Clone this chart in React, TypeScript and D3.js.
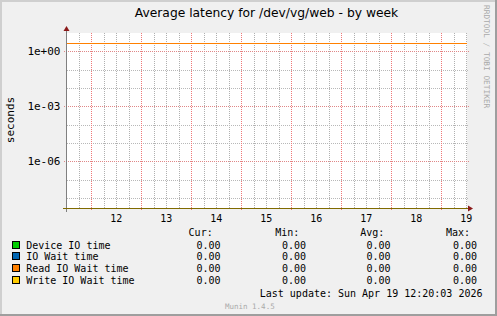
import React from "react";
import * as d3 from "d3";

const W = 497;
const H = 316;

const title = "Average latency for /dev/vg/web - by week";
const yLabel = "seconds";
const startTime = new Date(2026, 3, 11, 12, 20, 3);
const endTime = new Date(2026, 3, 19, 12, 20, 3);
const sampleTimes = [
  new Date(2026, 3, 11, 12, 20, 3),
  new Date(2026, 3, 13, 12, 0, 0),
  new Date(2026, 3, 15, 12, 0, 0),
  new Date(2026, 3, 17, 12, 0, 0),
  new Date(2026, 3, 19, 12, 20, 3),
];
const seriesNames = ["Device IO time", "IO Wait time", "Read IO Wait time", "Write IO Wait time"];
const seriesColors = ["#00CC00", "#0066B3", "#FF8000", "#FFCC00"];
const deviceValues = [0, 0, 0, 0, 0];
const ioWaitValues = [0, 0, 0, 0, 0];
const readValues = [2.9, 2.9, 2.9, 2.9, 2.9];
const writeValues = [0, 0, 0, 0, 0];
const legendHeaders = ["Cur:", "Min:", "Avg:", "Max:"];
const legendStats = [
  ["0.00", "0.00", "0.00", "0.00"],
  ["0.00", "0.00", "0.00", "0.00"],
  ["0.00", "0.00", "0.00", "0.00"],
  ["0.00", "0.00", "0.00", "0.00"],
];
const majorYTicks = [1, 1e-3, 1e-6];
const majorYLabels = ["1e+00", "1e-03", "1e-06"];
const minorYTicks = [1e-1, 1e-2, 1e-4, 1e-5, 1e-7, 1e-8];
const lastUpdate = "Last update: Sun Apr 19 12:20:03 2026";

const MONO = "'DejaVu Sans Mono', monospace";
const SANS = "'DejaVu Sans', sans-serif";

export default function App() {
  const x0 = 67, x1 = 467, yTop = 33, yBot = 208;
  const x = d3.scaleTime().domain([startTime, endTime]).range([x0, x1]);
  const y = d3.scaleLog().domain([Math.pow(10, -8.55), 10]).range([yBot, yTop]);
  const allSeries = [deviceValues, ioWaitValues, readValues, writeValues];
  const floor = y.domain()[0];
  const line = d3
    .line<number>()
    .x((_, i) => x(sampleTimes[i]))
    .y((v) => Math.round(y(Math.max(v, floor))) + 0.5);

  const hours6 = d3.timeHour.range(startTime, endTime).filter((d) => d.getHours() % 6 === 0);
  const minorX = hours6.filter((d) => d.getHours() !== 0);
  const majorX = hours6.filter((d) => d.getHours() === 0);
  const noons = hours6.filter((d) => d.getHours() === 12);
  const colHeaderEnd = [212.7, 299.3, 384.3, 470];
  const colValEnd = [220.5, 306, 390.5, 477];
  const rowBase = [248.6, 260.3, 272, 283.6];
  const px = (v: number) => Math.round(v) + 0.5;

  return (
    <svg width={W} height={H} style={{ position: "absolute", left: 0, top: 0 }}>
      <rect x={0} y={0} width={W} height={H} fill="#F0F0F0" />
      <rect x={0} y={0} width={W} height={2} fill="#CFCFCF" />
      <rect x={0} y={0} width={2} height={H} fill="#CFCFCF" />
      <rect x={0} y={H - 2} width={W} height={2} fill="#9E9E9E" />
      <rect x={W - 2} y={0} width={2} height={H} fill="#9E9E9E" />
      <rect x={x0} y={yTop} width={x1 - x0} height={yBot - yTop} fill="#FFFFFF" />

      <g shapeRendering="crispEdges">
        {minorX.map((d, i) => (
          <line key={"mv" + i} x1={px(x(d))} x2={px(x(d))} y1={yTop} y2={yBot}
            stroke="#B0B0B0" strokeDasharray="1,1" />
        ))}
        {minorYTicks.map((v, i) => (
          <line key={"mh" + i} x1={x0} x2={x1 + 2} y1={px(y(v))} y2={px(y(v))}
            stroke="#B8B8B8" strokeDasharray="1,1" />
        ))}
        {majorX.map((d, i) => (
          <line key={"Mv" + i} x1={px(x(d))} x2={px(x(d))} y1={yTop} y2={yBot + 3}
            stroke="#F07878" strokeDasharray="1,1" />
        ))}
        {majorYTicks.map((v, i) => (
          <line key={"Mh" + i} x1={x0 - 3} x2={x1 + 2} y1={px(y(v))} y2={px(y(v))}
            stroke="#E08888" strokeDasharray="1,1" />
        ))}
      </g>
      {majorYTicks.map((v, i) => (
        <text key={"yl" + i} x={60.5} y={y(v) + 4} textAnchor="end" fontFamily={MONO} fontSize={11} fill="#000">
          {majorYLabels[i]}
        </text>
      ))}

      {allSeries.map((vals, i) => (
        <path key={"s" + i} d={line(vals) || ""} fill="none" stroke={seriesColors[i]} strokeWidth={1} />
      ))}
      <g shapeRendering="crispEdges">
        <line x1={x0 - 0.5} x2={x0 - 0.5} y1={yTop - 3} y2={yBot + 4} stroke="#808080" />
        <line x1={x0 - 4} x2={x1 + 1} y1={yBot + 0.5} y2={yBot + 0.5} stroke="#806A00" />
      </g>
      <path d={`M${x0 - 3.5},${yTop - 2} L${x0 - 0.5},${yTop - 7} L${x0 + 2.5},${yTop - 2} Z`} fill="#8B1A1A" />
      <path d={`M${x1 + 1},${yBot - 2.5} L${x1 + 6},${yBot + 0.5} L${x1 + 1},${yBot + 3.5} Z`} fill="#8B1A1A" />

      {noons.map((d, i) => (
        <text key={"xl" + i} x={x(d)} y={221.5} textAnchor="middle" fontFamily={MONO} fontSize={10} fill="#000">
          {d.getDate()}
        </text>
      ))}

      <text x={266.5} y={17.3} textAnchor="middle" fontFamily={SANS} fontSize={12.3} fill="#000">{title}</text>
      <text transform="translate(14,120) rotate(-90)" textAnchor="middle" fontFamily={MONO} fontSize={11} fill="#000">{yLabel}</text>
      <text transform="translate(484,5) rotate(90)" textAnchor="start" fontFamily={MONO} fontSize={7.8} fill="#AAAAAA">RRDTOOL / TOBI OETIKER</text>

      {legendHeaders.map((h, i) => (
        <text key={"lh" + i} x={colHeaderEnd[i]} y={236} textAnchor="end" fontFamily={MONO} fontSize={10} fill="#000">{h}</text>
      ))}
      {seriesNames.map((n, r) => (
        <g key={"lr" + r}>
          <rect x={12.5} y={rowBase[r] - 7.5} width={7} height={7} fill={seriesColors[r]} stroke="#000" strokeWidth={1} shapeRendering="crispEdges" />
          <text x={26.2} y={rowBase[r]} fontFamily={MONO} fontSize={10} fill="#000">{n}</text>
          {legendStats[r].map((v, c) => (
            <text key={c} x={colValEnd[c]} y={rowBase[r]} textAnchor="end" fontFamily={MONO} fontSize={10} fill="#000">{v}</text>
          ))}
        </g>
      ))}
      <text x={482.5} y={297} textAnchor="end" fontFamily={MONO} fontSize={10} fill="#000">{lastUpdate}</text>
      <text x={225} y={308.5} fontFamily={MONO} fontSize={7.5} fill="#AAAAAA">Munin 1.4.5</text>
    </svg>
  );
}
